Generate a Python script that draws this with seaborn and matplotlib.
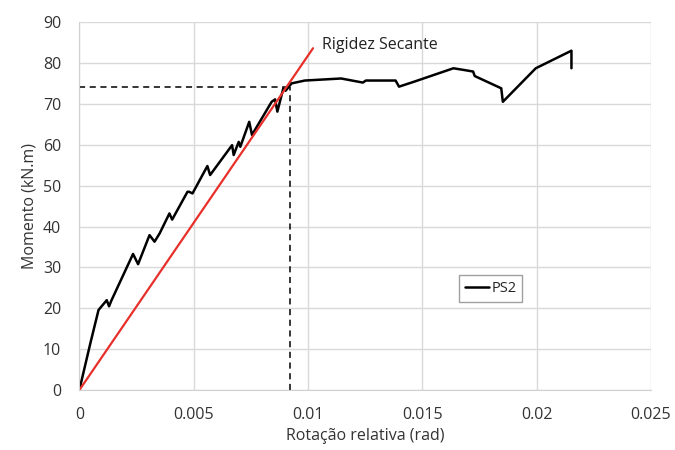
import numpy as np
import matplotlib.pyplot as plt
import seaborn as sns
import pandas as pd

# curva PS2 (rotacao em rad, momento em kN.m)
rot = [0.0, 0.00048, 0.00084, 0.0012, 0.0013, 0.00141, 0.00235, 0.00257, 0.00307,
       0.00329, 0.00351, 0.00394, 0.00406, 0.00473, 0.0048, 0.00495, 0.0056, 0.00572,
       0.00668, 0.00675, 0.00697, 0.00704, 0.00743, 0.00755, 0.00841, 0.00856,
       0.00866, 0.00892, 0.00902, 0.00928, 0.00986, 0.01145, 0.0124, 0.01253,
       0.01383, 0.01398, 0.01463, 0.01636, 0.0168, 0.01722, 0.01729, 0.01845,
       0.01852, 0.01996, 0.02152, 0.02152]
mom = [0.0, 11.4, 19.6, 22.0, 20.5, 22.0, 33.3, 30.8, 37.9,
       36.3, 38.3, 43.2, 41.7, 48.5, 48.5, 48.1, 54.8, 52.6,
       59.9, 57.5, 60.7, 59.5, 65.6, 62.4, 70.5, 71.1,
       68.1, 73.8, 73.2, 75.0, 75.7, 76.2, 75.2, 75.7,
       75.7, 74.2, 75.4, 78.7, 78.3, 77.9, 76.8, 73.8,
       70.5, 78.7, 83.0, 78.7]

# rigidez secante
sec_x = [0.0, 0.01022]
sec_y = [0.0, 83.6]
# ponto de referencia (linhas tracejadas)
ref_x = 0.0092
ref_y = 74.2

df = pd.DataFrame({"rot": rot, "mom": mom, "serie": "PS2"})

sns.set_style("white")
plt.rcParams["font.family"] = ["Open Sans", "DejaVu Sans"]

fig = plt.figure(figsize=(6.75, 4.5), dpi=100)
ax = fig.add_axes([0.1175, 0.133, 0.847, 0.818])

ax.plot([0, ref_x], [ref_y, ref_y], ls="--", color="black", lw=1.1, dashes=(4, 3))
ax.plot([ref_x, ref_x], [0, ref_y], ls="--", color="black", lw=1.1, dashes=(4, 3))
sns.lineplot(data=df, x="rot", y="mom", hue="serie", palette=["black"], sort=False,
             estimator=None, lw=1.8, ax=ax)
ax.plot(sec_x, sec_y, color="#e8302a", lw=1.6)

ax.text(0.01062, 84.3, "Rigidez Secante", fontsize=11.5, va="center", ha="left",
        color="#222222")

ax.set_xlim(0, 0.025)
ax.set_ylim(0, 90)
ax.set_xticks([0, 0.005, 0.01, 0.015, 0.02, 0.025])
ax.set_xticklabels(["0", "0.005", "0.01", "0.015", "0.02", "0.025"])
ax.set_yticks(range(0, 91, 10))
ax.grid(True, color="#d9d9d9", lw=1)
for s in ["top", "right"]:
    ax.spines[s].set_visible(False)
for s in ["left", "bottom"]:
    ax.spines[s].set_color("#d0d0d0")
ax.tick_params(labelsize=11.5, colors="#333333", length=0)
ax.tick_params(axis="x", pad=12)
ax.tick_params(axis="y", pad=13)
ax.set_xlabel("Rotação relativa (rad)", fontsize=11.5, color="#333333", labelpad=4)
ax.set_ylabel("Momento (kN.m)", fontsize=11.5, color="#333333", labelpad=4)

leg = ax.legend(loc="center", bbox_to_anchor=(0.72, 0.277), fontsize=10.5,
                frameon=True, fancybox=False, handlelength=1.6, handletextpad=0.2,
                borderpad=0.4)
leg.get_frame().set_edgecolor("#888888")
leg.get_frame().set_linewidth(1.0)

fig.savefig("out.png", dpi=100)
